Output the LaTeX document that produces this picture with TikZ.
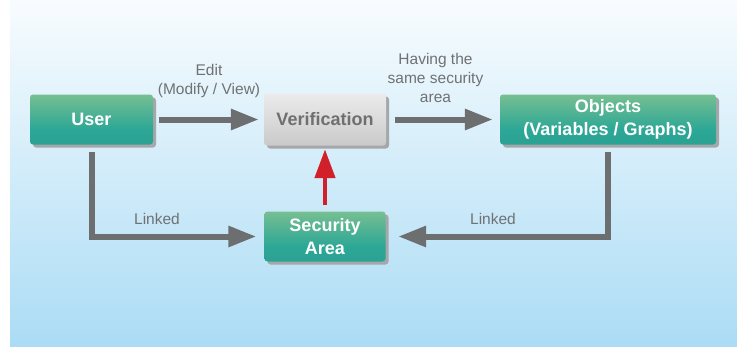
\documentclass[tikz,border=0pt]{standalone}
\usepackage{fontspec}
\setmainfont{Liberation Sans}
\usetikzlibrary{arrows.meta,shadows}
\definecolor{bgtop}{HTML}{F8FCFE}
\definecolor{bgbot}{HTML}{ABDCF5}
\definecolor{gtop}{HTML}{ABD08F}
\definecolor{gmid}{HTML}{2CA796}
\definecolor{gbot}{HTML}{2A998F}
\definecolor{vtop}{HTML}{FCFCFC}
\definecolor{vbot}{HTML}{B9B9B9}
\definecolor{arrowgray}{HTML}{6D6E70}
\definecolor{labelgray}{HTML}{707173}
\definecolor{vtext}{HTML}{6F6F6F}
\definecolor{shadowgray}{HTML}{A5A7AA}
\definecolor{redarrow}{HTML}{D2202A}
\pgfdeclareverticalshading{greenbox}{100bp}{color(0bp)=(gbot); color(40bp)=(gmid); color(100bp)=(gtop)}
\pgfdeclareverticalshading{graybox}{100bp}{color(0bp)=(vbot); color(100bp)=(vtop)}
\tikzset{
  boxbase/.style={rounded corners=3pt, inner sep=0pt, align=center,
    font=\bfseries\fontsize{18}{22.5}\selectfont,
    drop shadow={shadow xshift=3pt, shadow yshift=-3pt, fill=shadowgray, opacity=1}},
  greenbox/.style={boxbase, shading=greenbox, text=white},
  graybox/.style={boxbase, shading=graybox, text=vtext},
  garrow/.style={draw=arrowgray, line width=6pt, line join=miter,
    -{Triangle[length=28pt,width=20pt]}},
  redarr/.style={draw=redarrow, line width=4.5pt,
    -{Triangle[length=29pt,width=20pt]}},
  lbl/.style={text=labelgray, font=\fontsize{15.5}{19}\selectfont, align=center, inner sep=0pt}
}
\begin{document}
\begin{tikzpicture}[x=1pt,y=-1pt]
\useasboundingbox (0,0) rectangle (737,346);
\fill[top color=bgtop, bottom color=bgbot] (10,0) rectangle (737,346);

\node[greenbox, minimum width=123pt, minimum height=50pt] (user) at (91.5,119.5) {User};
\node[graybox, minimum width=122pt, minimum height=52pt] (verif) at (325,119.5) {Verification};
\node[greenbox, minimum width=216pt, minimum height=50pt] (objects) at (608,119.5) {Objects\\(Variables / Graphs)};
\node[greenbox, minimum width=121pt, minimum height=50pt] (sec) at (325,236.5) {Security\\Area};

\draw[garrow, shorten <=6pt, shorten >=5pt] (user.east) -- (verif.west);
\draw[garrow, shorten <=9pt, shorten >=7pt] (verif.east) -- (objects.west);
\draw[garrow, shorten <=7.5pt, shorten >=8pt] (user.south) |- (sec.west);
\draw[garrow, shorten <=7pt, shorten >=12.5pt] (objects.south) |- (sec.east);
\draw[redarr, shorten <=6.5pt, shorten >=3.5pt] (sec.north) -- (verif.south);

\node[lbl] (edit) at (209,81) {Edit\\(Modify / View)};
\node[lbl] (having) at (435.5,77.5) {Having the\\same security\\area};
\node[lbl] (linkedl) at (157,218.5) {Linked};
\node[lbl] (linkedr) at (493,218.5) {Linked};
\end{tikzpicture}
\end{document}
